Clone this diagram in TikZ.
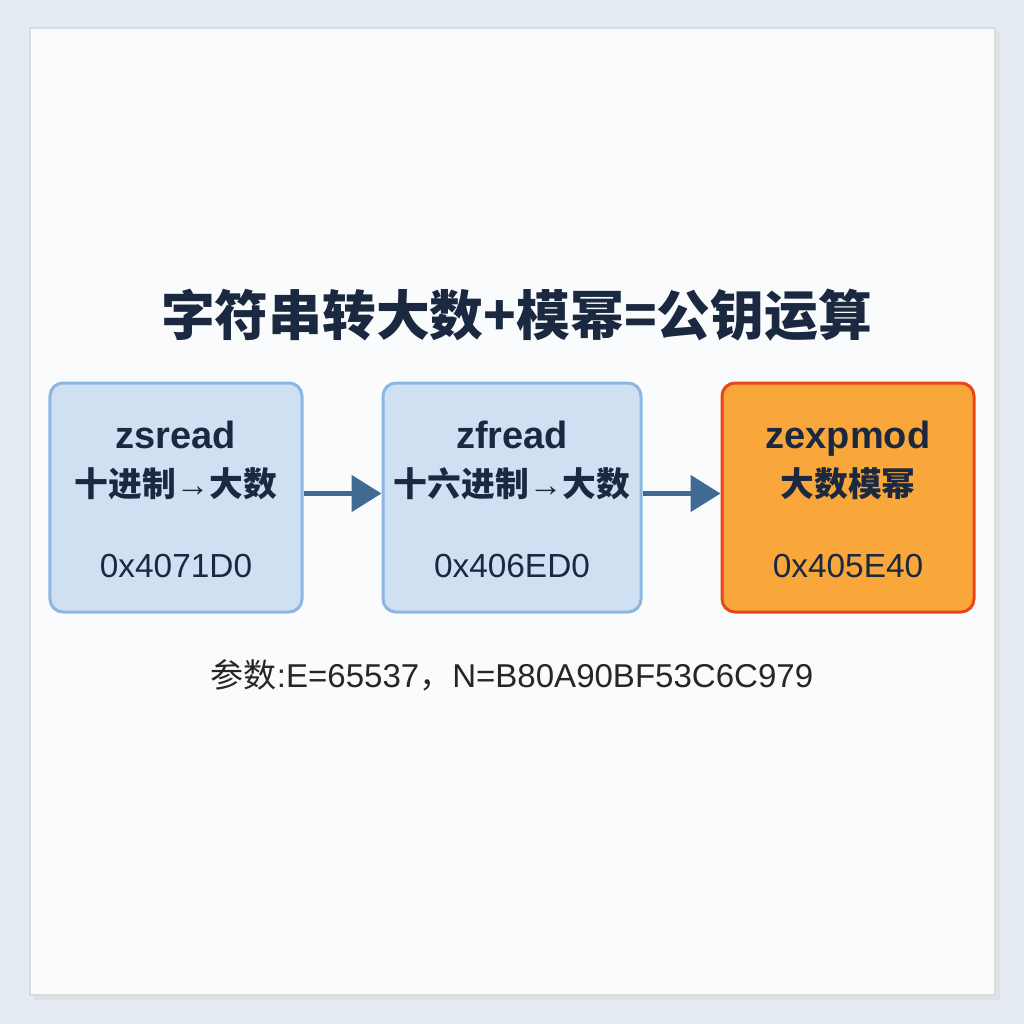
\documentclass[tikz,border=0pt]{standalone}
\usepackage{fontspec}
\setmainfont{Liberation Sans}
\newfontfamily\cjk{Noto Sans CJK SC}
\usetikzlibrary{arrows.meta,calc}

\definecolor{pagebg}{HTML}{E4EBF2}
\definecolor{panelbg}{HTML}{FAFBFD}
\definecolor{panelline}{HTML}{D6DCE3}
\definecolor{inkdark}{HTML}{1A2840}
\definecolor{bluefill}{HTML}{CFE0F3}
\definecolor{blueline}{HTML}{8DB6E0}
\definecolor{orangefill}{HTML}{F9A63B}
\definecolor{orangeline}{HTML}{E6461B}
\definecolor{arrowblue}{HTML}{3F6A92}

\begin{document}
\begin{tikzpicture}[>=Latex,
		funcbox/.style={draw=blueline, fill=bluefill, line width=0.03cm, rounded corners=0.13cm, minimum height=2.29cm},
		hotbox/.style={funcbox, draw=orangeline, fill=orangefill},
		fname/.style={anchor=base, text=inkdark, font=\fontsize{10.8}{12}\selectfont\bfseries},
		fdesc/.style={anchor=base, text=inkdark, font=\cjk\fontsize{9.6}{11}\selectfont\bfseries},
		faddr/.style={anchor=base, text=inkdark, font=\fontsize{9.5}{11}\selectfont},
		flow/.style={->, arrowblue, line width=0.05cm, -{Triangle[length=0.3cm,width=0.36cm]}}]
		% Background and panel
		\useasboundingbox[fill=pagebg] (0,0) rectangle (10.24,-10.24);
		\fill[black!12] (0.34,-0.32) rectangle (10.0,-10.0);
		\draw[panelline, fill=panelbg, line width=0.02cm] (0.30,-0.28) rectangle (9.95,-9.95);
		
		% Title
		\node[text=inkdark, font=\cjk\fontsize{15.3}{17}\selectfont\bfseries] (title) at (5.165,-3.15) {字符串转大数+模幂=公钥运算};
		
		% Boxes
		\node[funcbox, minimum width=2.52cm] (b1) at (1.76,-4.975) {};
		\node[funcbox, minimum width=2.58cm] (b2) at (5.12,-4.975) {};
		\node[hotbox, minimum width=2.52cm] (b3) at (8.48,-4.975) {};
		
		% Box texts
		\node[fname] (n1) at ($(b1.north)+(0,-0.67)$) {zsread};
		\node[fdesc] (d1) at ($(b1.north)+(0,-1.15)$) {十进制{\rmfamily\mdseries →}大数};
		\node[faddr] (a1) at ($(b1.north)+(0,-1.96)$) {0x4071D0};
		
		\node[fname] (n2) at ($(b2.north)+(0,-0.67)$) {zfread};
		\node[fdesc] (d2) at ($(b2.north)+(0,-1.15)$) {十六进制{\rmfamily\mdseries →}大数};
		\node[faddr] (a2) at ($(b2.north)+(0,-1.96)$) {0x406ED0};
		
		\node[fname] (n3) at ($(b3.north)+(0,-0.67)$) {zexpmod};
		\node[fdesc] (d3) at ($(b3.north)+(0,-1.15)$) {大数模幂};
		\node[faddr] (a3) at ($(b3.north)+(0,-1.96)$) {0x405E40};
		
		% Arrows
		\draw[flow] ($(b1.east)+(0,0.04)$) -- ($(b2.west)+(0,0.04)$);
		\draw[flow] ($(b2.east)+(0,0.04)$) -- ($(b3.west)+(0,0.04)$);
		
		% Parameters
		\node[text=black!85, font=\fontsize{9.4}{11}\selectfont] (params) at (5.12,-6.75) {{\cjk 参数}:E=65537{\cjk ，}N=B80A90BF53C6C979};
		
	\end{tikzpicture}
\end{document}
